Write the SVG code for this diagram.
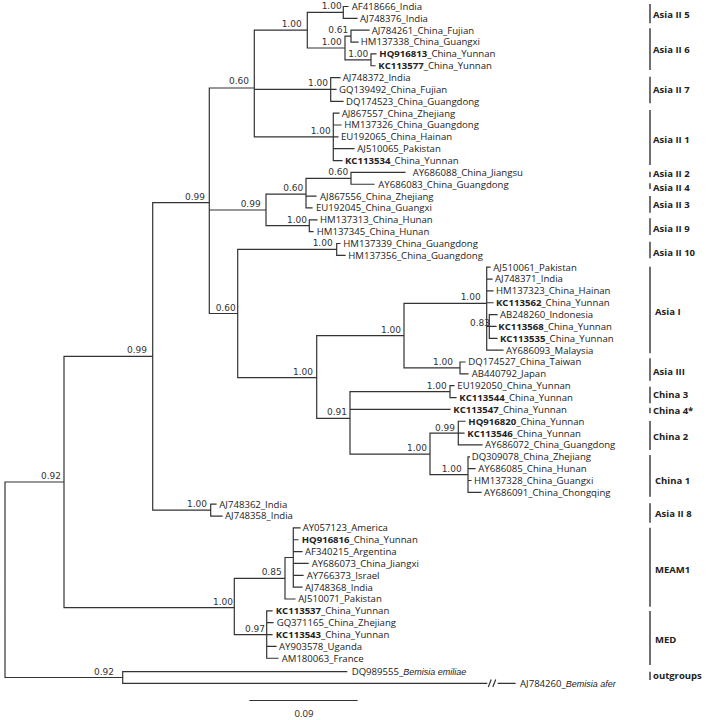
<svg xmlns="http://www.w3.org/2000/svg" width="711" height="720" viewBox="0 0 711 720">
<style>
.br{fill:none;stroke:#333;stroke-width:1.2;stroke-linecap:square}
.lf{font-family:"Open Sans","Noto Sans",sans-serif;font-size:9.6px;fill:#222}
.lf tspan.b{font-weight:bold}
.sp{font-family:"DejaVu Sans",sans-serif;font-size:9px;fill:#333;text-anchor:end}
.gl{font-family:"Open Sans","Noto Sans",sans-serif;font-size:9.5px;font-weight:bold;fill:#222}
.gb{stroke:#222;stroke-width:1.3}
.it{font-family:"Liberation Sans",Arial,sans-serif;font-style:italic;font-size:9px}
</style>
<rect width="711" height="720" fill="#fff"/>
<g id="connectors">
<path class="br" d="M5 482V677.5M5 482H64M5 677.5H122.7
M64 356.4V607.7M64 356.4H152.7M64 607.7H234.3
M152.7 202.7V510.1H210.7M152.7 202.7H209.3
M209.3 88V313.5H237.7M209.3 88H254.3M209.3 210H266
M254.3 30.2V136.85H333.3M254.3 30.2H307.3M254.3 89.45H330.7
M307.3 12.4V48H345M307.3 12.4H343.3
M343.3 6.5V18.35H357M343.3 6.5H348
M345 36.1V59.8H371M345 36.1H351
M351 30.2V42.05H358M351 30.2H369
M371 53.9V65.75H375M371 53.9H376
M330.7 77.6V101.3H343M330.7 77.6H340M330.7 89.45H336
M333.3 113.15V160.55H342M333.3 113.15H339M333.3 125H341M333.3 136.85H338M333.3 148.7H354
M266 194.1V225.7H309.3M266 194.1H306
M306 178.3V207.95H312M306 178.3H351M306 196.1H316
M351 172.4V184.25H374M351 172.4H405
M309.3 219.8V231.65H313M309.3 219.8H317
M237.7 249.4V377.7H316.7M237.7 249.4H336.7
M336.7 243.5V255.35H345M336.7 243.5H340
M316.7 335.7V418.4H350M316.7 335.7H404
M404 303.4V367.9H460M404 303.4H486.7
M486.7 267.2V350.15H503M486.7 267.2H490M486.7 279.05H492M486.7 290.9H493M486.7 302.75H493M486.7 326.45H489.3
M489.3 314.6V338.3H497M489.3 314.6H497M489.3 326.45H496
M460 362V373.85H468M460 362H465
M350 391.6V454.1H430M350 391.6H450M350 409.4H450
M450 385.7V397.55H456M450 385.7H454
M430 433.1V474.6H468M430 433.1H458.3
M458.3 421.25V444.95H482M458.3 421.25H465M458.3 433.1H464
M468 456.8V492.35H481M468 456.8H469.5M468 468.65H475M468 480.5H471
M210.7 504.2V516.05H222M210.7 504.2H216
M234.3 578.3V634.55H266.7M234.3 578.3H285
M285 557.5V599H295M285 557.5H293.3
M293.3 527.9V587.15H302M293.3 527.9H300M293.3 539.75H298M293.3 551.6H302M293.3 563.45H308M293.3 575.3H303
M266.7 610.85V658.25H278M266.7 610.85H272M266.7 622.7H273M266.7 634.55H272M266.7 646.4H276
M122.7 671.7V683.3H486.7M122.7 671.7H346.7M498.3 683.3H515
M250 700.5H357"/>
<path class="br" d="M488.5 686.5L491 680M493 686.5L495.5 680" stroke-linecap="butt"/>
</g>
<g id="leaves">
<g id="n1"><text class="lf" x="351.7" y="9.9">AF418666_India</text></g>
<g id="n2"><text class="lf" x="360" y="21.75">AJ748376_India</text></g>
<g id="n3"><text class="lf" x="371.7" y="33.6">AJ784261_China_Fujian</text></g>
<g id="n4"><text class="lf" x="360.7" y="45.45">HM137338_China_Guangxi</text></g>
<g id="n5"><text class="lf" x="379.3" y="57.3"><tspan class="b">HQ916813</tspan>_China_Yunnan</text></g>
<g id="n6"><text class="lf" x="378.3" y="69.15"><tspan class="b">KC113577</tspan>_China_Yunnan</text></g>
<g id="n7"><text class="lf" x="342.7" y="81">AJ748372_India</text></g>
<g id="n8"><text class="lf" x="339" y="92.85">GQ139492_China_Fujian</text></g>
<g id="n9"><text class="lf" x="346" y="104.7">DQ174523_China_Guangdong</text></g>
<g id="n10"><text class="lf" x="341.7" y="116.55">AJ867557_China_Zhejiang</text></g>
<g id="n11"><text class="lf" x="344.3" y="128.4">HM137326_China_Guangdong</text></g>
<g id="n12"><text class="lf" x="341" y="140.25">EU192065_China_Hainan</text></g>
<g id="n13"><text class="lf" x="357.3" y="152.1">AJ510065_Pakistan</text></g>
<g id="n14"><text class="lf" x="345" y="163.95"><tspan class="b">KC113534</tspan>_China_Yunnan</text></g>
<g id="n15"><text class="lf" x="412.7" y="175.8">AY686088_China_Jiangsu</text></g>
<g id="n16"><text class="lf" x="378.3" y="187.65">AY686083_China_Guangdong</text></g>
<g id="n17"><text class="lf" x="320" y="199.5">AJ867556_China_Zhejiang</text></g>
<g id="n18"><text class="lf" x="316" y="211.35">EU192045_China_Guangxi</text></g>
<g id="n19"><text class="lf" x="320" y="223.2">HM137313_China_Hunan</text></g>
<g id="n20"><text class="lf" x="316.7" y="235.05">HM137345_China_Hunan</text></g>
<g id="n21"><text class="lf" x="343.3" y="246.9">HM137339_China_Guangdong</text></g>
<g id="n22"><text class="lf" x="348.3" y="258.75">HM137356_China_Guangdong</text></g>
<g id="n23"><text class="lf" x="493.3" y="270.6">AJ510061_Pakistan</text></g>
<g id="n24"><text class="lf" x="495" y="282.45">AJ748371_India</text></g>
<g id="n25"><text class="lf" x="496" y="294.3">HM137323_China_Hainan</text></g>
<g id="n26"><text class="lf" x="496" y="306.15"><tspan class="b">KC113562</tspan>_China_Yunnan</text></g>
<g id="n27"><text class="lf" x="500" y="318">AB248260_Indonesia</text></g>
<g id="n28"><text class="lf" x="498.3" y="329.85"><tspan class="b">KC113568</tspan>_China_Yunnan</text></g>
<g id="n29"><text class="lf" x="500" y="341.7"><tspan class="b">KC113535</tspan>_China_Yunnan</text></g>
<g id="n30"><text class="lf" x="506" y="353.55">AY686093_Malaysia</text></g>
<g id="n31"><text class="lf" x="468.3" y="365.4">DQ174527_China_Taiwan</text></g>
<g id="n32"><text class="lf" x="471.7" y="377.25">AB440792_Japan</text></g>
<g id="n33"><text class="lf" x="457.3" y="389.1">EU192050_China_Yunnan</text></g>
<g id="n34"><text class="lf" x="459.3" y="400.95"><tspan class="b">KC113544</tspan>_China_Yunnan</text></g>
<g id="n35"><text class="lf" x="453.3" y="412.8"><tspan class="b">KC113547</tspan>_China_Yunnan</text></g>
<g id="n36"><text class="lf" x="468.3" y="424.65"><tspan class="b">HQ916820</tspan>_China_Yunnan</text></g>
<g id="n37"><text class="lf" x="467.3" y="436.5"><tspan class="b">KC113546</tspan>_China_Yunnan</text></g>
<g id="n38"><text class="lf" x="485" y="448.35">AY686072_China_Guangdong</text></g>
<g id="n39"><text class="lf" x="471.7" y="460.2">DQ309078_China_Zhejiang</text></g>
<g id="n40"><text class="lf" x="478.3" y="472.05">AY686085_China_Hunan</text></g>
<g id="n41"><text class="lf" x="474" y="483.9">HM137328_China_Guangxi</text></g>
<g id="n42"><text class="lf" x="484" y="495.75">AY686091_China_Chongqing</text></g>
<g id="n43"><text class="lf" x="219.3" y="507.6">AJ748362_India</text></g>
<g id="n44"><text class="lf" x="225" y="519.45">AJ748358_India</text></g>
<g id="n45"><text class="lf" x="302.7" y="531.3">AY057123_America</text></g>
<g id="n46"><text class="lf" x="301.7" y="543.15"><tspan class="b">HQ916816</tspan>_China_Yunnan</text></g>
<g id="n47"><text class="lf" x="305" y="555">AF340215_Argentina</text></g>
<g id="n48"><text class="lf" x="311.7" y="566.85">AY686073_China_Jiangxi</text></g>
<g id="n49"><text class="lf" x="306.7" y="578.7">AY766373_Israel</text></g>
<g id="n50"><text class="lf" x="305" y="590.55">AJ748368_India</text></g>
<g id="n51"><text class="lf" x="298.3" y="602.4">AJ510071_Pakistan</text></g>
<g id="n52"><text class="lf" x="275.7" y="614.25"><tspan class="b">KC113537</tspan>_China_Yunnan</text></g>
<g id="n53"><text class="lf" x="276.7" y="626.1">GQ371165_China_Zhejiang</text></g>
<g id="n54"><text class="lf" x="275.7" y="637.95"><tspan class="b">KC113543</tspan>_China_Yunnan</text></g>
<g id="n55"><text class="lf" x="279" y="649.8">AY903578_Uganda</text></g>
<g id="n56"><text class="lf" x="281.7" y="661.65">AM180063_France</text></g>
<g id="n57"><text class="lf" x="351.7" y="675.1">DQ989555_<tspan class="it">Bemisia emiliae</tspan></text></g>
<g id="n58"><text class="lf" x="520" y="686.7">AJ784260_<tspan class="it">Bemisia afer</tspan></text></g>
</g>
<g id="supports">
<text class="sp" x="61" y="479">0.92</text>
<text class="sp" x="114" y="675">0.92</text>
<text class="sp" x="147" y="353.4">0.99</text>
<text class="sp" x="233" y="604.7">1.00</text>
<text class="sp" x="205" y="199.7">0.99</text>
<text class="sp" x="207" y="507.1">1.00</text>
<text class="sp" x="249" y="84">0.60</text>
<text class="sp" x="301.7" y="27.2">1.00</text>
<text class="sp" x="341.7" y="9.4">1.00</text>
<text class="sp" x="348.3" y="33.1">0.61</text>
<text class="sp" x="341.7" y="45">1.00</text>
<text class="sp" x="368.3" y="56.8">1.00</text>
<text class="sp" x="328" y="86.4">1.00</text>
<text class="sp" x="330.7" y="133.8">1.00</text>
<text class="sp" x="260.7" y="207">0.99</text>
<text class="sp" x="303.3" y="191.1">0.60</text>
<text class="sp" x="348.3" y="175.3">0.60</text>
<text class="sp" x="307" y="222.7">1.00</text>
<text class="sp" x="235.7" y="310.5">0.60</text>
<text class="sp" x="332.7" y="246.4">1.00</text>
<text class="sp" x="313" y="374.7">1.00</text>
<text class="sp" x="401" y="332.7">1.00</text>
<text class="sp" x="347" y="415.4">0.91</text>
<text class="sp" x="480.7" y="300.4">1.00</text>
<text class="sp" x="490" y="326">0.83</text>
<text class="sp" x="453" y="364.9">1.00</text>
<text class="sp" x="446.7" y="388.6">1.00</text>
<text class="sp" x="427" y="451.1">1.00</text>
<text class="sp" x="455" y="430.6">0.99</text>
<text class="sp" x="461.7" y="472.4">1.00</text>
<text class="sp" x="281.7" y="575.3">0.85</text>
<text class="sp" x="265" y="631.6">0.97</text>
</g>
<g id="groups">
<g id="g-a2-5"><line class="gb" x1="650" y1="4" x2="650" y2="23.3"/><text class="gl" x="653" y="18.4">Asia II 5</text></g>
<g id="g-a2-6"><line class="gb" x1="650" y1="28.3" x2="650" y2="70"/><text class="gl" x="653" y="53.4">Asia II 6</text></g>
<g id="g-a2-7"><line class="gb" x1="650" y1="76.7" x2="650" y2="103.3"/><text class="gl" x="653" y="92.7">Asia II 7</text></g>
<g id="g-a2-1"><line class="gb" x1="650" y1="110" x2="650" y2="165"/><text class="gl" x="653" y="143.4">Asia II 1</text></g>
<g id="g-a2-2"><line class="gb" x1="650" y1="171.7" x2="650" y2="177.3"/><text class="gl" x="653" y="177.4">Asia II 2</text></g>
<g id="g-a2-4"><line class="gb" x1="650" y1="183.3" x2="650" y2="189"/><text class="gl" x="653" y="190.7">Asia II 4</text></g>
<g id="g-a2-3"><line class="gb" x1="650" y1="196" x2="650" y2="212.7"/><text class="gl" x="653" y="208.4">Asia II 3</text></g>
<g id="g-a2-9"><line class="gb" x1="650" y1="218.3" x2="650" y2="235"/><text class="gl" x="653" y="232.4">Asia II 9</text></g>
<g id="g-a2-10"><line class="gb" x1="650" y1="241.7" x2="650" y2="258.3"/><text class="gl" x="653" y="255.7">Asia II 10</text></g>
<g id="g-a1"><line class="gb" x1="650" y1="266.7" x2="650" y2="353.3"/><text class="gl" x="655" y="315.1">Asia I</text></g>
<g id="g-a3"><line class="gb" x1="650" y1="358.3" x2="650" y2="380.7"/><text class="gl" x="653" y="375.1">Asia III</text></g>
<g id="g-c3"><line class="gb" x1="650" y1="386.7" x2="650" y2="403.3"/><text class="gl" x="653" y="398.4">China 3</text></g>
<g id="g-c4"><line class="gb" x1="650" y1="407.7" x2="650" y2="413.3"/><text class="gl" x="653" y="414.4">China 4*</text></g>
<g id="g-c2"><line class="gb" x1="650" y1="421" x2="650" y2="450"/><text class="gl" x="653" y="440.1">China 2</text></g>
<g id="g-c1"><line class="gb" x1="650" y1="455" x2="650" y2="496.7"/><text class="gl" x="655" y="484.1">China 1</text></g>
<g id="g-a2-8"><line class="gb" x1="650" y1="503.3" x2="650" y2="522.7"/><text class="gl" x="655" y="516.7">Asia  II  8</text></g>
<g id="g-meam1"><line class="gb" x1="650" y1="527.7" x2="650" y2="606.7"/><text class="gl" x="655" y="572.7">MEAM1</text></g>
<g id="g-med"><line class="gb" x1="650" y1="611" x2="650" y2="665"/><text class="gl" x="655" y="643.4">MED</text></g>
<g id="g-out"><line class="gb" x1="650" y1="671.7" x2="650" y2="680"/><text class="gl" x="653" y="679.4">outgroups</text></g>
</g>
<g id="scale"><text class="lf" x="304" y="716.5" text-anchor="middle">0.09</text></g>
</svg>
